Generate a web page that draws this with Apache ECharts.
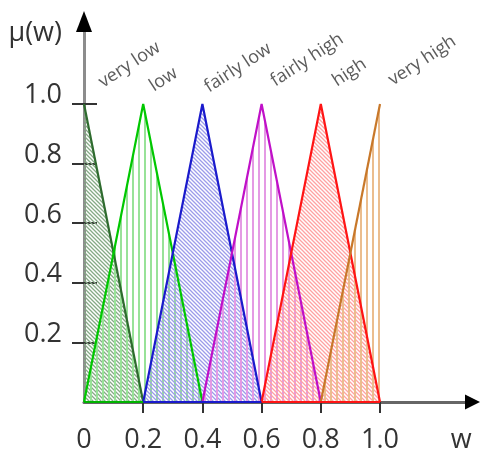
<!DOCTYPE html>
<html><head><meta charset="utf-8">
<script src="https://cdn.jsdelivr.net/npm/echarts@6/dist/echarts.min.js"></script>
<style>html,body{margin:0;padding:0;background:#fff}#c{width:480px;height:453px}</style>
</head><body><div id="c"></div>
<script>
// ---- data ----
const names = ['very low','low','fairly low','fairly high','high','very high'];
const shapes = [
  [[0,1],[0.2,0]],
  [[0,0],[0.2,1],[0.4,0]],
  [[0.2,0],[0.4,1],[0.6,0]],
  [[0.4,0],[0.6,1],[0.8,0]],
  [[0.6,0],[0.8,1],[1.0,0]],
  [[0.8,0],[1.0,1]]
];
const baseSegments = [[0,0.2],[0.2,0.6],[0.6,1.0]];
const yTicks = [0.2,0.4,0.6,0.8,1.0];
const yTickLabels = ['0.2','0.4','0.6','0.8','1.0'];
const xTicks = [0.2,0.4,0.6,0.8,1.0];
const xLabelValues = [0,0.2,0.4,0.6,0.8,1.0,1.274];
const xLabels = ['0','0.2','0.4','0.6','0.8','1.0','w'];
const labelAnchors = [[0.072,1.043],[0.244,1.030],[0.430,1.027],[0.653,1.047],[0.862,1.047],[1.051,1.050]];

// ---- styles ----
const lineColors = ['#2e6b2e','#00c800','#1a1acc','#c010c8','#ff1414','#c8782a'];
const hatchColors = ['#86aa86','#98e298','#9c9cea','#e49ae4','#ffa2a2','#ebbd8e'];
const hatchKinds = ['diag','vert','diag','vert','diag','vert'];
const baseColors = ['#00b400','#1a1acc','#ff1414'];
const XMAX = 1.3125, YMAX = 1.2768, LABEL_SHIFT = 0.028;
const FONT = 'Open Sans';
const TXT = '#333';
const W = 400;

function hatch(kind, color){
  const c = document.createElement('canvas');
  if (kind === 'vert') {
    c.width = 6; c.height = 6;
    const g = c.getContext('2d');
    g.fillStyle = color; g.fillRect(0,0,2,6);
  } else {
    const s = 4; c.width = s; c.height = s;
    const g = c.getContext('2d');
    g.strokeStyle = color; g.lineWidth = 1.3;
    g.beginPath();
    g.moveTo(-1,-1); g.lineTo(s+1,s+1);
    g.moveTo(-1,s-1); g.lineTo(1,s+1);
    g.moveTo(s-1,-1); g.lineTo(s+1,1);
    g.stroke();
  }
  return {image: c, repeat: 'repeat'};
}
function lookup(vals, labs, v){
  const i = vals.findIndex(t => Math.abs(t - v) < 1e-6);
  return i >= 0 ? labs[i] : '';
}

const chart = echarts.init(document.getElementById('c'), null, {renderer:'canvas'});
const series = [];
shapes.forEach((d,i) => {
  series.push({
    type:'line', data:d, symbol:'none', clip:false, silent:true,
    lineStyle:{color:lineColors[i], width:2.2},
    areaStyle:{color:hatch(hatchKinds[i], hatchColors[i]), opacity:1}
  });
});
baseSegments.forEach((s,i) => {
  series.push({
    type:'line', data:[[s[0],0],[s[1],0]], symbol:'none', clip:false, silent:true,
    lineStyle:{color:baseColors[i], width:2.2}
  });
});
series.push({
  type:'scatter', silent:true, symbolSize:0.1, itemStyle:{color:'transparent'},
  data: names.map((n,i) => ({name:n, value:labelAnchors[i]})),
  label:{show:true, formatter:'{b}', position:[0,0], align:'left', verticalAlign:'bottom',
         rotate:33, fontSize:18, color:TXT, fontFamily:FONT, fontWeight:W}
});

chart.setOption({
  animation:false,
  grid:{left:84, right:7.5, top:21.5, bottom:51, outerBoundsMode:'none'},
  xAxis:[
    {type:'value', min:0, max:XMAX, position:'bottom',
     axisLine:{show:true, onZero:false, lineStyle:{color:'#666', width:3}},
     axisTick:{show:true, customValues:xTicks, length:11, lineStyle:{color:'#333', width:2}},
     axisLabel:{customValues:xLabelValues, formatter:v => lookup(xLabelValues, xLabels, v),
                margin:25, fontSize:27, color:TXT, fontFamily:FONT, fontWeight:W},
     splitLine:{show:false}},
    {type:'value', min:0, max:XMAX, position:'bottom',
     axisLine:{show:true, onZero:false, symbol:['none','triangle'], symbolSize:[15,15],
               lineStyle:{color:'#000', width:0}},
     axisTick:{show:false}, axisLabel:{show:false}, splitLine:{show:false}}
  ],
  yAxis:[
    {type:'value', min:0, max:YMAX, position:'left',
     name:'μ(w)', nameLocation:'end', nameGap:-12,
     nameTextStyle:{align:'right', verticalAlign:'middle', padding:[0,22,0,0], fontSize:27, color:TXT, fontFamily:FONT, fontWeight:W},
     axisLine:{show:true, onZero:false, lineStyle:{color:'#8c8c8c', width:3}},
     axisTick:{show:true, customValues:yTicks, length:12, lineStyle:{color:'#333', width:2}},
     axisLabel:{show:false},
     splitLine:{show:false}},
    {type:'value', min:0, max:YMAX, position:'left',
     axisLine:{show:true, onZero:false, symbol:['none','triangle'], symbolSize:[16,21],
               lineStyle:{color:'#000', width:0}},
     axisTick:{show:true, inside:true, customValues:yTicks, length:13, lineStyle:{color:'#333', width:2}},
     axisLabel:{show:false}, splitLine:{show:false}},
    {type:'value', min:-LABEL_SHIFT, max:YMAX-LABEL_SHIFT, position:'left',
     axisLine:{show:false, onZero:false}, axisTick:{show:false}, splitLine:{show:false},
     axisLabel:{customValues:yTicks, formatter:v => lookup(yTicks, yTickLabels, v),
                margin:22, fontSize:27, color:TXT, fontFamily:FONT, fontWeight:W,
                verticalAlign:'middle'}}
  ],
  series: series
});
</script>
</body></html>
